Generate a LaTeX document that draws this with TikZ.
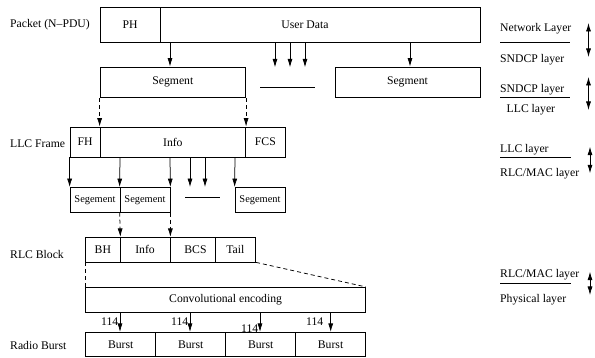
\documentclass[tikz,border=0pt]{standalone}
\usepackage{fontspec}
\setmainfont{Liberation Serif}
\usetikzlibrary{arrows.meta}
\begin{document}
\begin{tikzpicture}[x=1pt,y=-1pt,
  font=\fontsize{11.7}{13}\selectfont,
  box/.style={draw, rectangle, inner sep=0pt, line width=0.75pt},
  arr/.style={-{Latex[length=8.5pt,width=5pt]}, line width=0.75pt},
  darr/.style={arr, dash pattern=on 4pt off 3pt},
  dline/.style={line width=0.75pt, dash pattern=on 4pt off 3pt},
  dbl/.style={{Latex[length=8.5pt,width=5pt]}-{Latex[length=8.5pt,width=5pt]}, line width=0.75pt},
  sep/.style={line width=0.75pt},
  lbl/.style={anchor=west, inner sep=0pt},
  small/.style={font=\fontsize{10.4}{12}\selectfont}]
\useasboundingbox (0,0) rectangle (595,358);

% left labels
\node[lbl] (lpacket) at (10,24.5) {Packet (N–PDU)};
\node[lbl] (lllc) at (10,144) {LLC Frame};
\node[lbl] (lrlc) at (10,254) {RLC Block};
\node[lbl] (lradio) at (10,345) {Radio Burst};

% packet row
\node[box, minimum width=60pt, minimum height=35pt] (ph) at (130,24.5) {PH};
\node[box, minimum width=320pt, minimum height=35pt] (ud) at (320,24.5) {};
\node (udtext) at (305,24.5) {User Data};

% segments
\node[box, minimum width=145.7pt, minimum height=30.7pt] (seg1) at (172.85,82.35) {Segment};
\node[box, minimum width=145pt, minimum height=30.7pt] (seg2) at (407.5,82.35) {Segment};
\draw[sep] (260,87.7) -- (315,87.7);

\draw[arr] (ud.south -| 170,0) -- (seg1.north -| 170,0);
\draw[arr] (ud.south -| 275,0) -- ++(0,25);
\draw[arr] (ud.south -| 290,0) -- ++(0,25);
\draw[arr] (ud.south -| 305,0) -- ++(0,25);
\draw[arr] (ud.south -| 410,0) -- (seg2.north -| 410,0);

% LLC frame
\node[box, minimum width=30pt, minimum height=30pt] (fh) at (85,142) {FH};
\node[box, minimum width=145.7pt, minimum height=30pt] (info) at (172.85,142) {Info};
\node[box, minimum width=39.3pt, minimum height=30pt] (fcs) at (265.35,142) {FCS};

\draw[darr] (seg1.south west) -- (info.north west);
\draw[darr] (seg1.south east) -- (info.north east);

% segement row
\node[box, small, minimum width=50pt, minimum height=24.8pt] (sg1) at (95,199.9) {Segement};
\node[box, small, minimum width=50pt, minimum height=24.8pt] (sg2) at (145,199.9) {Segement};
\node[box, small, minimum width=50pt, minimum height=24.8pt] (sg3) at (260,199.9) {Segement};
\draw[sep] (185,197.3) -- (220,197.3);

\draw[arr] (fh.south west) -- (sg1.north west);
\draw[arr] (info.south -| 120,0) -- (sg2.north west);
\draw[arr] (info.south -| 170,0) -- (sg2.north east);
\draw[arr] (info.south -| 190,0) -- ++(0,29.7);
\draw[arr] (info.south -| 205,0) -- ++(0,29.7);
\draw[arr] (info.south -| 235,0) -- (sg3.north west);

% RLC block
\node[box, minimum width=34.3pt, minimum height=24.7pt] (bh) at (102.85,249.65) {BH};
\node[box, minimum width=50pt, minimum height=24.7pt] (ri) at (145,249.65) {Info};
\node[box, minimum width=45pt, minimum height=24.7pt] (bcs) at (192.5,249.65) {\hspace{6pt}BCS};
\node[box, minimum width=40.7pt, minimum height=24.7pt] (tail) at (235.35,249.65) {Tail};

\draw[darr] (sg2.south west) -- (bh.north east);
\draw[darr] (sg2.south east) -- (ri.north east);

% convolutional encoding
\node[box, minimum width=279.8pt, minimum height=25pt] (conv) at (225.6,299.8) {Convolutional encoding};
\draw[dline] (bh.south west) -- (conv.north west);
\draw[dline] (tail.south east) -- (conv.north east);

% bursts
\node[box, minimum width=70pt, minimum height=24.4pt] (b1) at (120.7,344.5) {Burst};
\node[box, minimum width=70pt, minimum height=24.4pt] (b2) at (190.7,344.5) {Burst};
\node[box, minimum width=70pt, minimum height=24.4pt] (b3) at (260.7,344.5) {Burst};
\node[box, minimum width=69.8pt, minimum height=24.4pt] (b4) at (330.6,344.5) {Burst};

\draw[arr] (conv.south -| 120,0) -- (b1.north -| 120,0);
\draw[arr] (conv.south -| 190,0) -- (b2.north -| 190,0);
\draw[arr] (conv.south -| 260,0) -- (b3.north -| 260,0);
\draw[arr] (conv.south -| 330.7,0) -- (b4.north -| 330.7,0);

\node[anchor=east, inner sep=0pt] (n1) at (118.5,321.7) {114};
\node[anchor=east, inner sep=0pt] (n2) at (188.5,321.7) {114};
\node[anchor=east, inner sep=0pt] (n3) at (258.5,329) {114};
\node[anchor=east, inner sep=0pt] (n4) at (323.5,321.7) {114};

% right-hand layer labels
\node[lbl] (r1a) at (500,29) {Network Layer};
\draw[sep] (500,42.3) -- (570,42.3);
\node[lbl] (r1b) at (500,60) {SNDCP layer};
\coordinate (d1a) at (588.5,23);
\coordinate (d1b) at (588.5,57);
\draw[dbl] (d1a) -- (d1b);

\node[lbl] (r2a) at (500,89.3) {SNDCP layer};
\draw[sep] (500,97.5) -- (570,97.5);
\node[lbl] (r2b) at (506.5,109.3) {LLC layer};
\coordinate (d2a) at (588.5,77);
\coordinate (d2b) at (588.5,110);
\draw[dbl] (d2a) -- (d2b);

\node[lbl] (r3a) at (500,149.3) {LLC layer};
\draw[sep] (500,157.3) -- (570.5,157.3);
\node[lbl] (r3b) at (500,173.3) {RLC/MAC layer};
\coordinate (d3a) at (590,146.7);
\coordinate (d3b) at (590,173.3);
\draw[dbl] (d3a) -- (d3b);

\node[lbl] (r4a) at (500,274.3) {RLC/MAC layer};
\draw[sep] (500,283.3) -- (570.5,283.3);
\node[lbl] (r4b) at (500,300) {Physical layer};
\coordinate (d4a) at (590,271.7);
\coordinate (d4b) at (590,295);
\draw[dbl] (d4a) -- (d4b);
\end{tikzpicture}
\end{document}
